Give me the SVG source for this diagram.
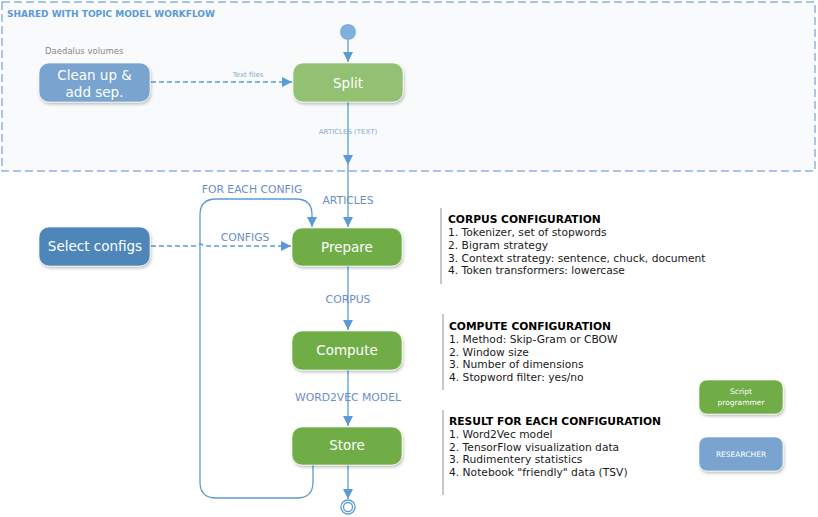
<svg xmlns="http://www.w3.org/2000/svg" width="818" height="517" viewBox="0 0 818 517">
<defs>
<marker id="ah" viewBox="0 0 10 10" refX="10" refY="5" markerWidth="10" markerHeight="10" markerUnits="userSpaceOnUse" orient="auto">
<path d="M0,0 L10,5 L0,10 Z" fill="#5b9bd5"/>
</marker>
<filter id="sh" x="-10%" y="-10%" width="125%" height="135%">
<feDropShadow dx="1" dy="2" stdDeviation="1.5" flood-color="#000" flood-opacity="0.25"/>
</filter>
</defs>
<style>
.frame{fill:#f9fafb;stroke:#8fb4dc;stroke-width:1.5;stroke-dasharray:8 4}
.node{stroke:#fff;stroke-opacity:0.6;stroke-width:1;filter:url(#sh)}
.green{fill:#70ad47}
.lgreen{fill:#93c173}
.blue{fill:#4f86ba}
.lblue{fill:#79a4cf}
.ntext{font-family:"DejaVu Sans",Verdana,sans-serif;font-size:13.5px;fill:#fff;text-anchor:middle}
.conn{fill:none;stroke:#5b9bd5;stroke-width:1.3}
.dash{stroke-dasharray:5 3}
.lab{font-family:"DejaVu Sans",sans-serif;font-size:10.8px;fill:#6a8ec6;text-anchor:middle}
.slab{font-family:"DejaVu Sans",sans-serif;font-size:7px;fill:#8aaad0;text-anchor:middle}
.note{font-family:"DejaVu Sans",Verdana,sans-serif;font-size:10.7px;fill:#1a1a1a}
.nh{font-weight:bold;fill:#000}
.bar{stroke:#c8c8c8;stroke-width:2}
</style>
<rect class="frame" x="2" y="2" width="813" height="169"/>
<text x="7" y="17" font-family="'DejaVu Sans',sans-serif" font-size="9" font-weight="bold" fill="#5b9bd5">SHARED WITH TOPIC MODEL WORKFLOW</text>
<text x="45" y="54" font-family="'DejaVu Sans',sans-serif" font-size="8.5" fill="#8a8a8a">Daedalus volumes</text>

<g id="connectors">
<line class="conn" x1="348" y1="40" x2="348" y2="62" marker-end="url(#ah)"/>
<line class="conn dash" x1="151" y1="82" x2="292" y2="82" marker-end="url(#ah)"/>
<text class="slab" x="248" y="77">Text files</text>
<line class="conn" x1="348" y1="102" x2="348" y2="165" marker-end="url(#ah)"/>
<text class="slab" x="348" y="134">ARTICLES (TEXT)</text>
<line class="conn" x1="348" y1="165" x2="348" y2="227" marker-end="url(#ah)"/>
<text class="lab" x="348" y="204">ARTICLES</text>
<path class="conn dash" d="M151,246 H196 Q200,242 204,246 H291" marker-end="url(#ah)"/>
<text class="lab" x="245" y="241">CONFIGS</text>
<path class="conn" d="M313,465 V482 Q313,498 297,498 H216 Q200,498 200,482 V215 Q200,199 216,199 H296 Q312,199 312,215 V227" marker-end="url(#ah)"/>
<text class="lab" x="252" y="193">FOR EACH CONFIG</text>
<line class="conn" x1="348" y1="266" x2="348" y2="330" marker-end="url(#ah)"/>
<text class="lab" x="348" y="303">CORPUS</text>
<line class="conn" x1="348" y1="370" x2="348" y2="426" marker-end="url(#ah)"/>
<text class="lab" x="348" y="401">WORD2VEC MODEL</text>
<line class="conn" x1="348" y1="465" x2="348" y2="499" marker-end="url(#ah)"/>
</g>

<g id="start"><circle cx="348" cy="32" r="8" fill="#7fb0dd"/></g>
<g id="end"><circle cx="348" cy="507" r="7" fill="#fff" stroke="#5b9bd5" stroke-width="1.3"/><circle cx="348" cy="507" r="4.5" fill="#fff" stroke="#5b9bd5" stroke-width="1.3"/></g>

<g id="cleanup"><rect class="node lblue" x="39" y="63" width="111" height="39" rx="10"/>
<text class="ntext" x="94.5" y="80">Clean up &amp;</text><text class="ntext" x="94.5" y="97">add sep.</text></g>
<g id="split"><rect class="node lgreen" x="293" y="63" width="110" height="39" rx="10"/>
<text class="ntext" x="348" y="88">Split</text></g>
<g id="selectconfigs"><rect class="node blue" x="39" y="227" width="111" height="39" rx="10"/>
<text class="ntext" x="95" y="251">Select configs</text></g>
<g id="prepare"><rect class="node green" x="292" y="228" width="110" height="38" rx="10"/>
<text class="ntext" x="347" y="252">Prepare</text></g>
<g id="compute"><rect class="node green" x="292" y="331" width="110" height="39" rx="10"/>
<text class="ntext" x="347" y="355">Compute</text></g>
<g id="store"><rect class="node green" x="292" y="427" width="110" height="38" rx="10"/>
<text class="ntext" x="347" y="450">Store</text></g>

<g id="corpusnote"><line class="bar" x1="441" y1="208" x2="441" y2="284"/>
<text class="note"><tspan class="nh" x="448" y="223">CORPUS CONFIGURATION</tspan><tspan x="448" y="236">1. Tokenizer, set of stopwords</tspan><tspan x="448" y="249">2. Bigram strategy</tspan><tspan x="448" y="262">3. Context strategy: sentence, chuck, document</tspan><tspan x="448" y="274">4. Token transformers: lowercase</tspan></text></g>
<g id="computenote"><line class="bar" x1="443" y1="314" x2="443" y2="390"/>
<text class="note"><tspan class="nh" x="449" y="330">COMPUTE CONFIGURATION</tspan><tspan x="449" y="343">1. Method: Skip-Gram or CBOW</tspan><tspan x="449" y="356">2. Window size</tspan><tspan x="449" y="368">3. Number of dimensions</tspan><tspan x="449" y="381">4. Stopword filter: yes/no</tspan></text></g>
<g id="resultnote"><line class="bar" x1="443" y1="410" x2="443" y2="495"/>
<text class="note"><tspan class="nh" x="449" y="425">RESULT FOR EACH CONFIGURATION</tspan><tspan x="449" y="438">1. Word2Vec model</tspan><tspan x="449" y="451">2. TensorFlow visualization data</tspan><tspan x="449" y="463">3. Rudimentery statistics</tspan><tspan x="449" y="476">4. Notebook "friendly" data (TSV)</tspan></text></g>

<g id="legend-script"><rect class="node green" x="699" y="380" width="84" height="34" rx="8"/>
<text x="741" y="394" font-family="'DejaVu Sans',sans-serif" font-size="7.5" fill="#fff" text-anchor="middle">Script</text>
<text x="741" y="405" font-family="'DejaVu Sans',sans-serif" font-size="7.5" fill="#fff" text-anchor="middle">programmer</text></g>
<g id="legend-researcher"><rect class="node lblue" x="699" y="437" width="84" height="34" rx="8"/>
<text x="741" y="457" font-family="'DejaVu Sans',sans-serif" font-size="7.5" fill="#fff" text-anchor="middle">RESEARCHER</text></g>
</svg>
